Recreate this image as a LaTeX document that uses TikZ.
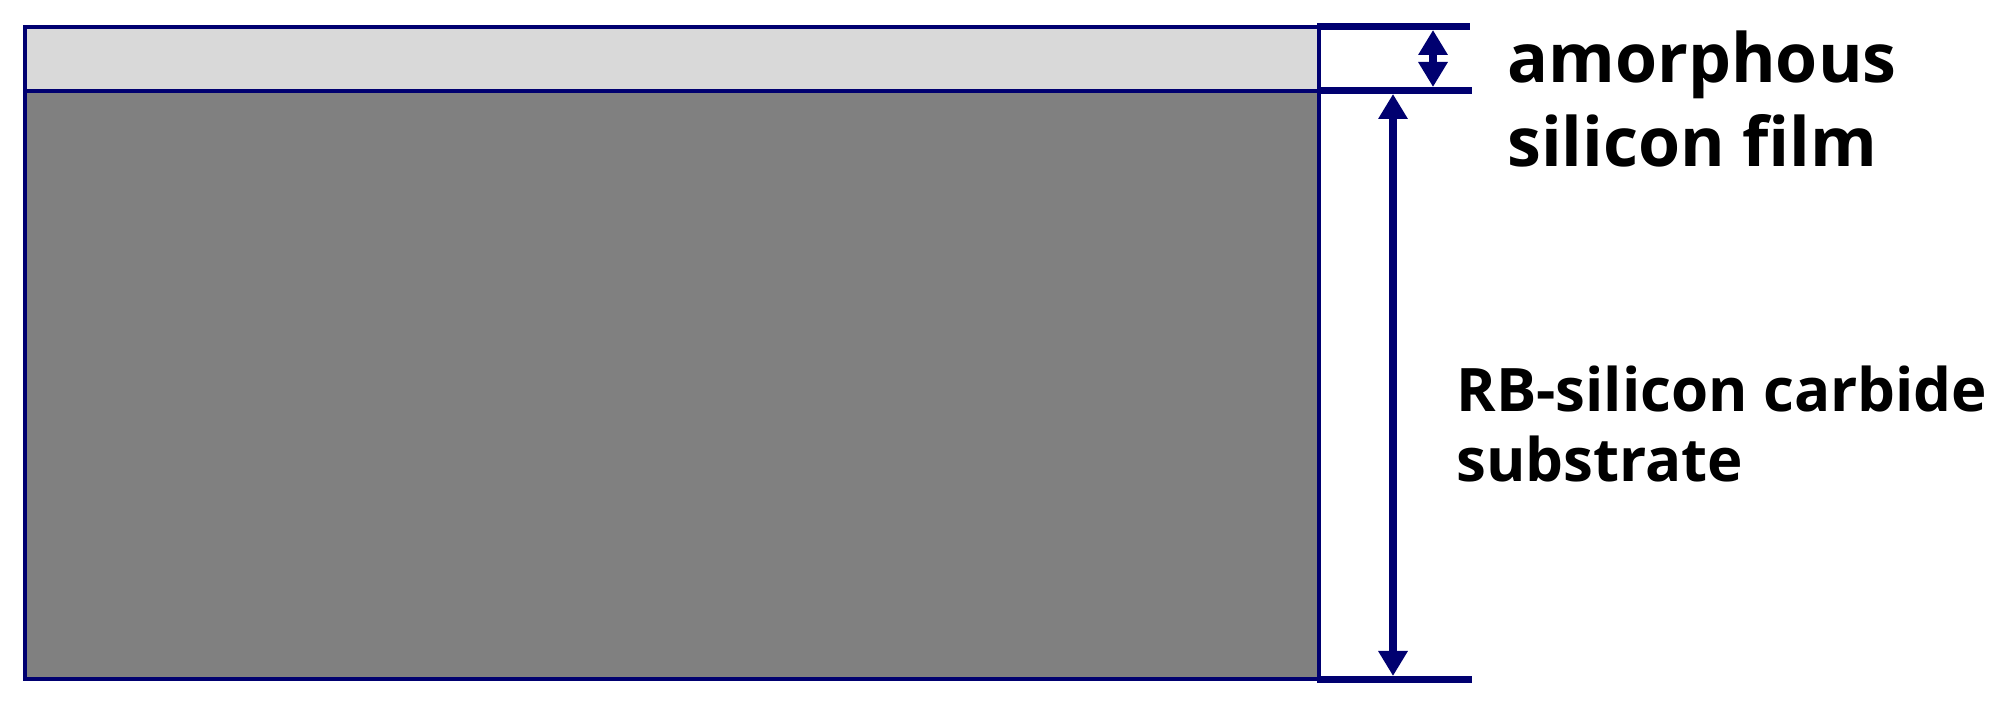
\documentclass[tikz,border=0pt]{standalone}
\usepackage{fontspec}
\setmainfont{Open Sans}
\usetikzlibrary{arrows.meta}
\definecolor{navy}{HTML}{000070}
\definecolor{filmgrey}{HTML}{D9D9D9}
\definecolor{subgrey}{HTML}{808080}
\tikzset{
  border/.style={draw=navy, line width=2pt},
  dimline/.style={draw=navy, line width=3.3pt},
  dimarrow/.style={draw=navy, line width=3.6pt, {Triangle[width=14pt,length=12.5pt]}-{Triangle[width=14pt,length=12.5pt]}},
  lbltop/.style={anchor=base west, inner sep=0pt, font=\fontsize{34}{40}\selectfont\bfseries},
  lblsub/.style={anchor=base west, inner sep=0pt, font=\fontsize{30}{35}\selectfont\bfseries},
}
\begin{document}
\begin{tikzpicture}[x=0.5pt,y=-0.5pt]
\useasboundingbox (0,0) rectangle (2002,704);
% layers
\coordinate (tl) at (24.5,27);
\coordinate (sepR) at (1318.5,91);
\coordinate (br) at (1318.5,679);
\fill[filmgrey] (tl) rectangle (sepR);
\fill[subgrey] (24.5,91) rectangle (br);
\draw[border] (tl) rectangle (br);
\draw[border] (24.5,91) -- (sepR);
% dimension lines
\coordinate (d1a) at (1317,26.5);  \coordinate (d1b) at (1470,26.5);
\coordinate (d2a) at (1317,90.5);  \coordinate (d2b) at (1472,90.5);
\coordinate (d3a) at (1317,679.5); \coordinate (d3b) at (1472,679.5);
\draw[dimline] (d1a) -- (d1b);
\draw[dimline] (d2a) -- (d2b);
\draw[dimline] (d3a) -- (d3b);
% arrows
\coordinate (a1t) at (1433,30);  \coordinate (a1b) at (1433,87);
\coordinate (a2t) at (1393,94);  \coordinate (a2b) at (1393,676);
\draw[dimarrow] (a1t) -- (a1b);
\draw[dimarrow] (a2t) -- (a2b);
% labels
\node[lbltop] (film1) at (1507,83) {amorphous};
\node[lbltop] (film2) at (1507,167) {silicon film};
\node[lblsub] (sub1) at (1456,412) {RB-silicon carbide};
\node[lblsub] (sub2) at (1456,482) {substrate};
\end{tikzpicture}
\end{document}
